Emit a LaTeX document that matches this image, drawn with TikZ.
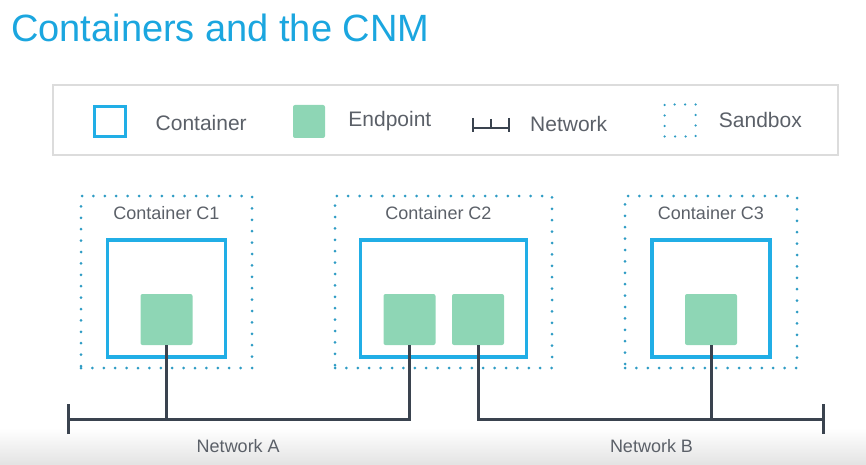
\documentclass[tikz,border=0pt]{standalone}
\usepackage{fontspec}
\setmainfont{Liberation Sans}
\usepackage {tikz}
\usetikzlibrary {positioning}
\usetikzlibrary{shapes,arrows.meta}
\definecolor{cnmcyan}{HTML}{1BA6DF}
\definecolor{boxcyan}{HTML}{21AEE6}
\definecolor{epgreen}{HTML}{8ED6B5}
\definecolor{netgray}{HTML}{3A434F}
\definecolor{dotblue}{HTML}{2E9CC4}
\definecolor{txtgray}{HTML}{5B6068}
\definecolor{legborder}{HTML}{DCDCDC}
\tikzstyle{sandbox} = [rectangle, draw=dotblue, line width=3pt, line cap=round,
    dash pattern=on 0pt off 11.4pt, minimum height=172pt]
\tikzstyle{container} = [rectangle, draw=boxcyan, line width=3.5pt,
    minimum height=117pt, node distance=16.5pt]
\tikzstyle{endpoint} = [rectangle, fill=epgreen, rounded corners=2pt,
    minimum width=52pt, minimum height=51pt, node distance=21pt]
\tikzstyle{netline} = [draw=netgray, line width=3pt]
\tikzstyle{cntlabel} = [text=txtgray, inner sep=0pt, font=\fontsize{18}{21}\selectfont]
\tikzstyle{legtext} = [text=txtgray, inner sep=0pt, text height=1.5ex, text depth=.25ex,
    font=\fontsize{21}{25}\selectfont]

\begin{document}
\begin{tikzpicture}[x=1pt, y=1pt, node distance=277pt]
    \useasboundingbox (0,0) rectangle (866,-465);
    \shade[top color=white, bottom color=black!11] (0,-428) rectangle (866,-465);
    % Title
    \node [anchor=base west, inner sep=0pt, text=cnmcyan,
        font=\fontsize{38}{44}\selectfont] (title) at (11,-42) {Containers and the CNM};

    % Legend
    \node [draw=legborder, line width=1.5pt, minimum width=785pt, minimum height=70pt] (legend) at (445.5,-120) {};
    \node [container, minimum width=31pt, minimum height=30pt, line width=3pt] (legcont) at (109.5,-122) {};
    \node [legtext, right=29pt of legcont, yshift=-5pt] (legconttxt) {Container};
    \node [endpoint, minimum width=32pt, minimum height=33pt] (legep) at (309,-121.5) {};
    \node [legtext, right=23pt of legep, yshift=-2pt] (legeptxt) {Endpoint};
    \coordinate (legnet) at (473,-128);
    \coordinate (legnetend) at (509,-128);
    \draw [netline, line width=2.5pt] (legnet) ++(0,10) -- ++(0,-14)
        (legnet) -- (legnetend) ++(0,10) -- ++(0,-14)
        (legnet) ++(18,9) -- ++(0,-9);
    \node [legtext, right=21pt of legnetend] (legnettxt) {Network};
    \node [sandbox, line width=2.5pt, dash pattern=on 0pt off 10.5pt, minimum width=31pt,
        minimum height=32pt] (legsb) at (680,-120.5) {};
    \node [legtext, right=22pt of legsb, yshift=-3.5pt] (legsbtxt) {Sandbox};

    % Place nodes
    \node [sandbox, minimum width=171pt] (sb1) at (166.5,-282) {};
    \node [sandbox, minimum width=217pt, right of=sb1, node distance=277pt] (sb2) {};
    \node [sandbox, minimum width=172pt, right of=sb2, node distance=267.5pt] (sb3) {};
    \node [cntlabel, anchor=north] (sb1lab) at ([yshift=-12pt]sb1.north) {Container C1};
    \node [cntlabel, anchor=north, xshift=-5pt] (sb2lab) at ([yshift=-12pt]sb2.north) {Container C2};
    \node [cntlabel, anchor=north] (sb3lab) at ([yshift=-12pt]sb3.north) {Container C3};
    \node [container, minimum width=118pt, below of=sb1] (c1) {};
    \node [container, minimum width=166pt, below of=sb2] (c2) {};
    \node [container, minimum width=118pt, below of=sb3] (c3) {};
    \node [endpoint, below of=c1] (e1) {};
    \node [endpoint, below of=c2, xshift=-34pt] (e2a) {};
    \node [endpoint, below of=c2, xshift=34.5pt] (e2b) {};
    \node [endpoint, below of=c3] (e3) {};
    \coordinate (netA) at (67,-419);
    \coordinate (netB) at (825,-419);

    % Draw edges
    \path [netline, {Bar[width=30pt]}-] (netA) -| node [cntlabel, pos=0.25, below=19pt] {Network A} (e2a.south);
    \path [netline] (e1.south) -- (e1.south |- netA);
    \path [netline, -{Bar[width=30pt]}] (e2b.south) |- node [cntlabel, pos=0.75, below=19pt] {Network B} (netB);
    \path [netline] (e3.south) -- (e3.south |- netB);
\end{tikzpicture}
\end{document}
